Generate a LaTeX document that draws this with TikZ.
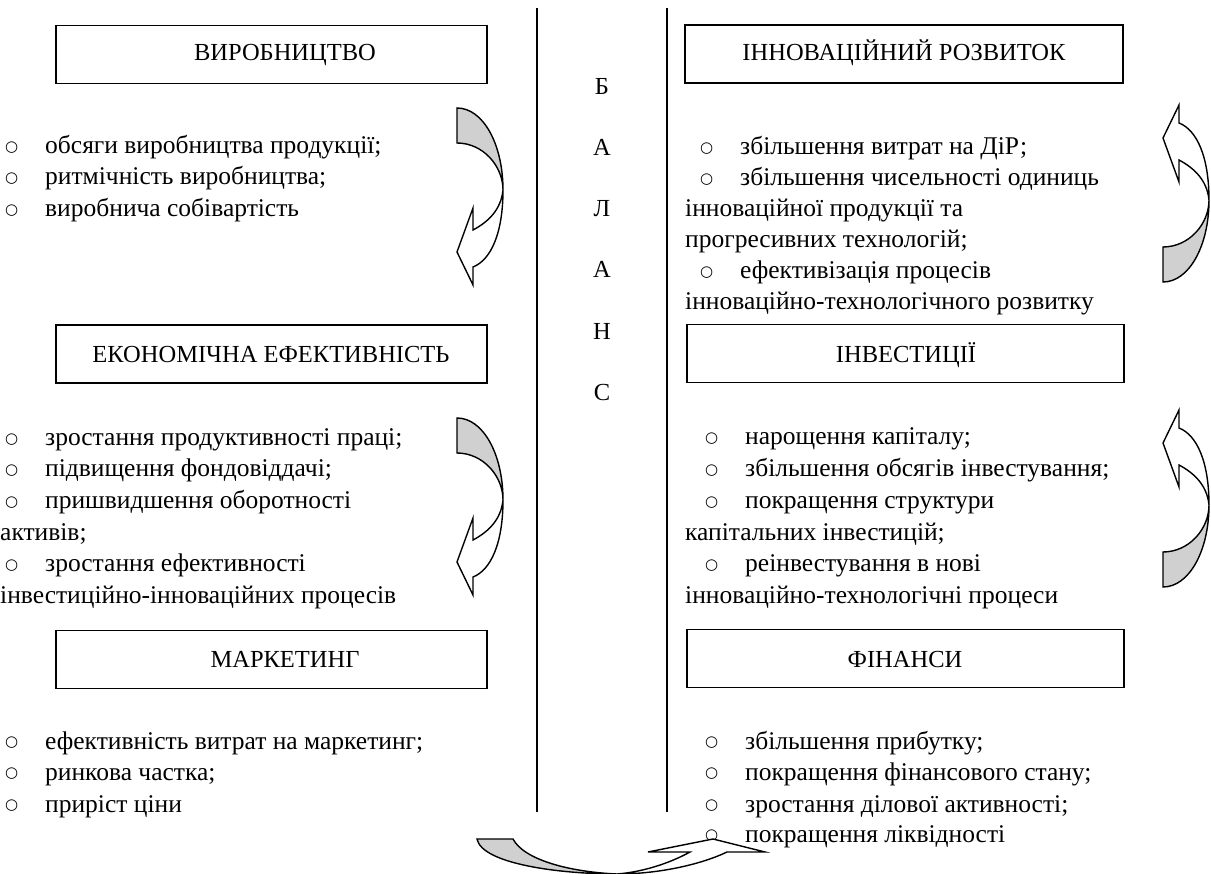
\documentclass[tikz,border=0pt]{standalone}
\usepackage{fontspec}
\setmainfont{Liberation Serif}
\newfontfamily\bulletfont{DejaVu Sans}
\definecolor{backgrey}{HTML}{D0D0D0}
\tikzset{
  box/.style={draw, line width=1.8pt, minimum height=58pt, inner sep=0pt},
  heading/.style={anchor=base, inner sep=0pt, font=\fontsize{24.5}{29}\selectfont},
  txt/.style={anchor=base west, inner sep=0pt, font=\fontsize{25.5}{30}\selectfont},
  bul/.style={anchor=base west, inner sep=0pt, yshift=2.5pt, font=\bulletfont\fontsize{15}{18}\selectfont},
  letter/.style={anchor=base, inner sep=0pt, font=\fontsize{24.5}{29}\selectfont},
  divider/.style={line width=1.8pt},
  band/.style={draw, line width=1.4pt, line join=miter},
  turn arrow/.pic={
    \draw[band, fill=white] (46,82) .. controls (46,125) and (34,152) .. (16,159) -- (16,177)
      -- (0,144) -- (16,100) -- (16,122) .. controls (31,114) and (44,102) .. (46,82) -- cycle;
    \draw[band, fill=backgrey] (0,0) .. controls (26,0) and (46,36) .. (46,82)
      .. controls (46,58) and (26,35) .. (0,35) -- cycle;
  },
}
\begin{document}
\begin{tikzpicture}[x=1pt, y=-1pt]
  \useasboundingbox (0,0) rectangle (1211,874);
  % separators and the word between them
  \draw[divider] (537,8) -- (537,812);
  \draw[divider] (667,8) -- (667,812);
  \node[letter] (b1) at (602,95) {Б};
  \node[letter] (b2) at (602,156) {А};
  \node[letter] (b3) at (602,217) {Л};
  \node[letter] (b4) at (602,278) {А};
  \node[letter] (b5) at (602,340) {Н};
  \node[letter] (b6) at (602,401) {С};

  % left column
  \node[box, minimum width=431pt] (vyr) at (271.5,54.5) {};
  \node[heading] (vyrt) at (285,61) {ВИРОБНИЦТВО};
  \node[bul] (v1o) at (5,154) {○};
  \node[txt] (v1) at (45,154) {обсяги виробництва продукції;};
  \node[bul] (v2o) at (5,185) {○};
  \node[txt] (v2) at (45,185) {ритмічність виробництва;};
  \node[bul] (v3o) at (5,217) {○};
  \node[txt] (v3) at (45,217) {виробнича собівартість};

  \node[box, minimum width=431pt] (eko) at (271.5,354) {};
  \node[heading] (ekot) at (271,363) {ЕКОНОМІЧНА ЕФЕКТИВНІСТЬ};
  \node[bul] (e1o) at (5,446) {○};
  \node[txt] (e1) at (45,446) {зростання продуктивності праці;};
  \node[bul] (e2o) at (5,477) {○};
  \node[txt] (e2) at (45,477) {підвищення фондовіддачі;};
  \node[bul] (e3o) at (5,509) {○};
  \node[txt] (e3) at (45,509) {пришвидшення оборотності};
  \node[txt] (e3b) at (0,540) {активів;};
  \node[bul] (e4o) at (5,572) {○};
  \node[txt] (e4) at (45,572) {зростання ефективності};
  \node[txt] (e4b) at (0,603) {інвестиційно-інноваційних процесів};

  \node[box, minimum width=431pt] (mar) at (271.5,659.5) {};
  \node[heading] (mart) at (285,667) {МАРКЕТИНГ};
  \node[bul] (m1o) at (5,749) {○};
  \node[txt] (m1) at (45,749) {ефективність витрат на маркетинг;};
  \node[bul] (m2o) at (5,780) {○};
  \node[txt] (m2) at (45,780) {ринкова частка;};
  \node[bul] (m3o) at (5,812) {○};
  \node[txt] (m3) at (45,812) {приріст ціни};

  % right column
  \node[box, minimum width=438pt] (inn) at (904,54) {};
  \node[heading] (innt) at (904,61) {ІННОВАЦІЙНИЙ РОЗВИТОК};
  \node[bul] (i1o) at (700,155) {○};
  \node[txt] (i1) at (740,155) {збільшення витрат на ДіР;};
  \node[bul] (i2o) at (700,186) {○};
  \node[txt] (i2) at (740,186) {збільшення чисельності одиниць};
  \node[txt] (i2b) at (685,217) {інноваційної продукції та};
  \node[txt] (i2c) at (685,248) {прогресивних технологій;};
  \node[bul] (i3o) at (700,279) {○};
  \node[txt] (i3) at (740,279) {ефективізація процесів};
  \node[txt] (i3b) at (685,310) {інноваційно-технологічного розвитку};

  \node[box, minimum width=437pt] (inv) at (905.5,353.5) {};
  \node[heading] (invt) at (906,363) {ІНВЕСТИЦІЇ};
  \node[bul] (n1o) at (705,445) {○};
  \node[txt] (n1) at (745,445) {нарощення капіталу;};
  \node[bul] (n2o) at (705,477) {○};
  \node[txt] (n2) at (745,477) {збільшення обсягів інвестування;};
  \node[bul] (n3o) at (705,509) {○};
  \node[txt] (n3) at (745,509) {покращення структури};
  \node[txt] (n3b) at (685,540) {капітальних інвестицій;};
  \node[bul] (n4o) at (705,572) {○};
  \node[txt] (n4) at (745,572) {реінвестування в нові};
  \node[txt] (n4b) at (685,603) {інноваційно-технологічні процеси};

  \node[box, minimum width=437pt] (fin) at (905.5,658.5) {};
  \node[heading] (fint) at (905,667) {ФІНАНСИ};
  \node[bul] (f1o) at (705,749) {○};
  \node[txt] (f1) at (745,749) {збільшення прибутку;};
  \node[bul] (f2o) at (705,780) {○};
  \node[txt] (f2) at (745,780) {покращення фінансового стану;};
  \node[bul] (f3o) at (705,812) {○};
  \node[txt] (f3) at (745,812) {зростання ділової активності;};
  \node[bul] (f4o) at (705,842) {○};
  \node[txt] (f4) at (745,842) {покращення ліквідності};

  % curved arrows
  \pic at (457,108) {turn arrow};
  \pic at (457,418) {turn arrow};
  \pic[yscale=-1] at (1163,282) {turn arrow};
  \pic[yscale=-1] at (1163,587) {turn arrow};
  \draw[band, fill=white] (617,874) .. controls (660,874) and (702,864) .. (727,852) -- (765,852)
    -- (713,839) -- (648,852) -- (690,852) .. controls (668,864) and (642,872) .. (617,874) -- cycle;
  \draw[band, fill=backgrey] (477,839) -- (513,839) .. controls (524,860) and (570,872) .. (617,874)
    .. controls (560,874) and (482,864) .. (477,839) -- cycle;
\end{tikzpicture}
\end{document}
